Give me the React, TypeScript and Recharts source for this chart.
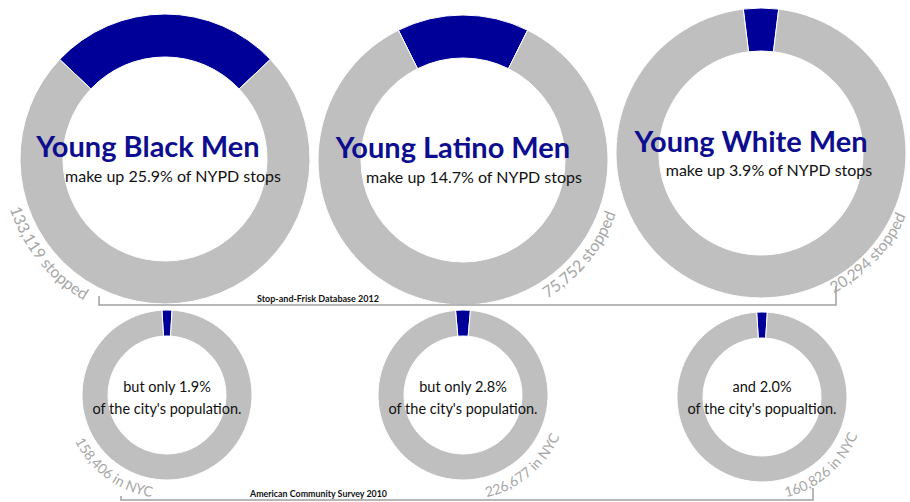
import { PieChart, Pie, Cell } from 'recharts';

// values
const groups = ['Young Black Men', 'Young Latino Men', 'Young White Men'];
const stopShare = [25.9, 14.7, 3.9];
const stopCount = ['133,119', '75,752', '20,294'];
const popShare = [1.9, 2.8, 2.0];
const popCount = ['158,406', '226,677', '160,826'];
const popLead = ['but only', 'but only', 'and'];
const popTail = ["of the city's population.", "of the city's population.", "of the city's popualtion."];

const BLUE = '#000099';
const GREY = '#bfbfbf';
const LABEL = '#a6a6a6';
const FONT = "Lato, 'Open Sans', sans-serif";

// where each donut sits on the page
const topLayout = [
  { cx: 165, cy: 159, mid: 219, rb: 163, fs: 16, titleX: 148, subX: 173, titleY: 157, subY: 182 },
  { cx: 463, cy: 160, mid: -39, rb: 162, fs: 16, titleX: 453, subX: 474, titleY: 158, subY: 183 },
  { cx: 761, cy: 153, mid: -43, rb: 158, fs: 15.5, titleX: 751, subX: 769, titleY: 152, subY: 176 },
];
const bottomLayout = [
  { cx: 167, cy: 395, mid: 234, rb: 103 },
  { cx: 463, cy: 395, mid: -50, rb: 105 },
  { cx: 762, cy: 397, mid: -49, rb: 103 },
];

const arcPath = (cx: number, cy: number, r: number, a1: number, a2: number) => {
  const p = (a: number) => [cx + r * Math.cos((a * Math.PI) / 180), cy - r * Math.sin((a * Math.PI) / 180)];
  const [x1, y1] = p(a1);
  const [x2, y2] = p(a2);
  return `M${x1.toFixed(1)},${y1.toFixed(1)} A${r},${r} 0 0 0 ${x2.toFixed(1)},${y2.toFixed(1)}`;
};

interface DonutProps {
  cx: number;
  cy: number;
  outer: number;
  inner: number;
  share: number;
}

const Donut = ({ cx, cy, outer, inner, share }: DonutProps) => {
  const size = outer * 2 + 4;
  const data = [
    { name: 'group', value: share },
    { name: 'rest', value: 100 - share },
  ];
  // blue slice centred on 12 o'clock
  const start = 90 + (share * 3.6) / 2;
  return (
    <div style={{ position: 'absolute', left: cx - size / 2, top: cy - size / 2, width: size, height: size }}>
      <PieChart width={size} height={size} margin={{ top: 0, right: 0, bottom: 0, left: 0 }}>
        <Pie
          data={data}
          dataKey="value"
          cx="50%"
          cy="50%"
          innerRadius={inner}
          outerRadius={outer}
          startAngle={start}
          endAngle={start - 360}
          stroke="#ffffff"
          strokeWidth={1}
          isAnimationActive={false}
        >
          <Cell fill={BLUE} />
          <Cell fill={GREY} />
        </Pie>
      </PieChart>
    </div>
  );
};

export default function App() {
  return (
    <div style={{ position: 'absolute', left: 0, top: 0, width: 910, height: 502, overflow: 'hidden', background: '#fff' }}>
      {topLayout.map((l, i) => (
        <Donut key={`t-${i}`} cx={l.cx} cy={l.cy} outer={145} inner={102} share={stopShare[i]} />
      ))}
      {bottomLayout.map((l, i) => (
        <Donut key={`b-${i}`} cx={l.cx} cy={l.cy} outer={85} inner={59} share={popShare[i]} />
      ))}

      {/* texts and brackets on top of the donuts */}
      <svg width={910} height={502} style={{ position: 'absolute', left: 0, top: 0, pointerEvents: 'none' }}>
        <defs>
          {topLayout.map((l, i) => (
            <path key={i} id={`tarc-${i}`} d={arcPath(l.cx, l.cy, l.rb, l.mid - 70, l.mid + 70)} fill="none" />
          ))}
          {bottomLayout.map((l, i) => (
            <path key={i} id={`barc-${i}`} d={arcPath(l.cx, l.cy, l.rb, l.mid - 70, l.mid + 70)} fill="none" />
          ))}
        </defs>

        {topLayout.map((l, i) => (
          <g key={`tt-${i}`} fontFamily={FONT}>
            <text x={l.titleX} y={l.titleY} textAnchor="middle" fontSize={29} fontWeight={700} fill="#0d0d8f">
              {groups[i]}
            </text>
            <text x={l.subX} y={l.subY} textAnchor="middle" fontSize={16} fill="#111">
              make up {stopShare[i]}% of NYPD stops
            </text>
            <text fontSize={l.fs} fill={LABEL}>
              <textPath href={`#tarc-${i}`} startOffset="50%" textAnchor="middle">
                {stopCount[i]} stopped
              </textPath>
            </text>
          </g>
        ))}

        {bottomLayout.map((l, i) => (
          <g key={`bt-${i}`} fontFamily={FONT}>
            <text x={l.cx} y={392} textAnchor="middle" fontSize={14.5} fill="#111">
              {popLead[i]} {popShare[i].toFixed(1)}%
            </text>
            <text x={l.cx} y={414} textAnchor="middle" fontSize={14.5} fill="#111">
              {popTail[i]}
            </text>
            <text fontSize={14} fill={LABEL}>
              <textPath href={`#barc-${i}`} startOffset="50%" textAnchor="middle">
                {popCount[i]} in NYC
              </textPath>
            </text>
          </g>
        ))}

        {/* source brackets */}
        <polyline points="99,296 99,305 836,305 836,286" fill="none" stroke="#a0a0a0" strokeWidth={1.5} />
        <text x={257} y={302} fontFamily={FONT} fontSize={10} fontWeight={700} fill="#111" textLength={122} lengthAdjust="spacingAndGlyphs">
          Stop-and-Frisk Database 2012
        </text>
        <polyline points="121,496 121,500 813,500 813,488" fill="none" stroke="#a0a0a0" strokeWidth={1.5} />
        <text x={250} y={497} fontFamily={FONT} fontSize={10} fontWeight={700} fill="#111" textLength={137} lengthAdjust="spacingAndGlyphs">
          American Community Survey 2010
        </text>
      </svg>
    </div>
  );
}
